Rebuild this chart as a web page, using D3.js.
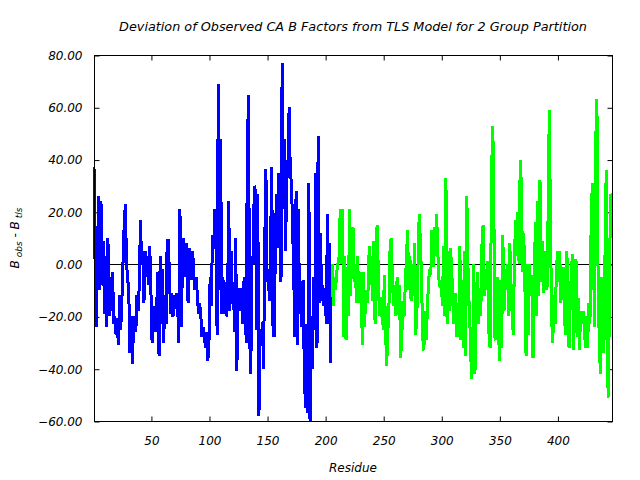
<!DOCTYPE html>
<html>
<head>
<meta charset="utf-8">
<script src="https://cdn.jsdelivr.net/npm/d3@7"></script>
<style>
  body { margin: 0; background: #fff; }
  svg { display: block; font-family: 'DejaVu Sans', sans-serif; font-style: italic; }
</style>
</head>
<body>
<div id="chart"></div>
<script>
// residue numbering of the two TLS groups
const groupStarts = [1, 206]

// B_obs - B_tls for group 1 (residues 1-205)
const group1Values = [
  37, -3, -24, 5, 26, -10, 24, -8, 9, -19,
  3, -24, 10, -20, -5, -18, -3, -23, -20, -27,
  -22, -31, -12, -25, -14, 1, 15, 23, 0, -5,
  -12, -34, -20, -38, -25, -20, -26, -12, -18, -8,
  17, 0, 5, -15, 5, -5, 3, -8, 7, -10,
  -30, -19, -16, -26, -16, -3, -35, 3, -23, -2,
  -30, -12, -23, 9, 9, -5, -19, -11, -20, -12,
  -17, -11, -15, -30, 21, -24, -5, 10, -5, 6,
  8, -15, 6, 3, -6, 5, -5, -10, -5, -12,
  -19, -15, -20, -28, -24, -28, -32, -26, -37, -30,
  -5, -16, 11, 6, 21, 13, -27, 69, -10, 48,
  -19, -5, -19, -7, -20, -14, 24, -18, 5, -15,
  -7, -26, 10, -41, -9, -18, -9, -14, -23, -7,
  -5, -30, 41, 64.5, -28, -42, 3, 0, 30, 28,
  -25, 27, -58, -25, -30, -22, -40, 7, 36.5, -7,
  -2, -14, 5, 37, -23, -28, 0, 27, 6, 35,
  19, -7, 77, 21, 48, 5, 40, 33, 60, 35,
  31, 15, -5, -28, 28, -31, 21, -19, -7, -24,
  -6, -38, -55, -23, -57, 31, -60, -26, -40, -5,
  -25, 35, -32, 49, -15, 12, -14, -8, -16, -9,
  -23, 19, -23, 8, -38
]

// B_obs - B_tls for group 2 (residues 206-447)
const group2Values = [
  0, -16, -5, -10, -3, 0, 3, 21, 0, 21,
  -28, 3, -29, -7, -20, 21, -12, 10, 14, -7,
  0, -15, 3, -15, -8, -3, -31, -3, -24, -10,
  -15, -10, 7, -8, 3, -14, 9, -23, 12, 15,
  -10, -20, -13, -13, -25, -4, -25, -39, -26, -15,
  8, 10, -7, -16, -8, -20, -5, -14, -8, -36,
  -28, -14, -20, -8, 2, 13, -10, 3, -14, 0,
  -12, 8, -27, -19, 0, 19, 9, -5, -28, -33,
  -18, -29, -18, -7, -2, -4, 13, -1, 14, 3,
  19, 5, -6, -9, -7, -16, 7, -20, 33, -23,
  5, -18, 6, -2, -15, -23, -11, -28, -15, -28,
  7, -29, -6, -32, 5, -35, 26, -1, -16, -27,
  -44, -40, 0, -42, -20, -3, -23, -9, -20, 7,
  15, -12, -2, -10, 1, -26, -32, 16, 53, 42,
  -28, -29, -5, -15, -37, -6, -32, 11, -18, -2,
  -10, 0, -20, 8, -7, -19, -27, 2, 17, 3,
  20, 0, 40, 30, -3, 12, -8, -35, 0, -27,
  0, -10, -4, -36, -10, 16, -20, 24, -12, 32,
  -7, 9, -11, 5, 0, -10, 19, 59, 17, -21,
  -30, -12, -23, -5, 5, -7, 5, -15, -4, -1,
  -20, -27, 5, -5, -32, -15, -3, 4, -33, -10,
  2, -28, -13, -33, -18, -23, -18, -20, -32, -20,
  -32, -15, -23, 14, 31, 5, -24, 47, 63, -4,
  -29, -42, -5, -26, -34, 4, 36, -43, -51, 3,
  27, 17
]

const xTicks = [50, 100, 150, 200, 250, 300, 350, 400]
const yTicks = [-60, -40, -20, 0, 20, 40, 60, 80]
const residueRange = [1, 447]
const valueRange = [-60, 80]

const width = 640
const height = 480
const plotLeft = 94
const plotRight = 612
const plotTop = 55
const plotBottom = 421

const svg = d3.select('#chart').append('svg')
  .attr('width', width)
  .attr('height', height)

const x = d3.scaleLinear().domain(residueRange).range([plotLeft, plotRight])
const y = d3.scaleLinear().domain(valueRange).range([plotBottom, plotTop])

const styleAxis = g => {
  g.select('.domain').remove()
  g.selectAll('.tick line').attr('stroke', '#000')
  g.selectAll('.tick text')
    .attr('fill', '#000')
    .style('font-size', '12px')
    .style('font-family', "'DejaVu Sans', sans-serif")
    .style('font-style', 'italic')
}

svg.append('g')
  .attr('transform', `translate(0.5, ${plotBottom + 0.5})`)
  .call(d3.axisBottom(x).tickValues(xTicks).tickSize(-5).tickPadding(15).tickFormat(d3.format('d')))
  .call(styleAxis)

svg.append('g')
  .attr('transform', `translate(0.5, ${plotTop + 0.5})`)
  .call(d3.axisTop(x).tickValues(xTicks).tickSize(-5).tickFormat(''))
  .call(styleAxis)

svg.append('g')
  .attr('transform', `translate(${plotLeft + 0.5}, 0.5)`)
  .call(d3.axisLeft(y).tickValues(yTicks).tickSize(-5).tickPadding(12).tickFormat(d3.format('.2f')))
  .call(styleAxis)

svg.append('g')
  .attr('transform', `translate(${plotRight + 0.5}, 0.5)`)
  .call(d3.axisRight(y).tickValues(yTicks).tickSize(-5).tickFormat(''))
  .call(styleAxis)

// zero line
svg.append('line')
  .attr('x1', plotLeft)
  .attr('x2', plotRight)
  .attr('y1', Math.round(y(0)) + 0.5)
  .attr('y2', Math.round(y(0)) + 0.5)
  .attr('stroke', '#000')

const series = [
  { color: '#0000ff', points: group1Values.map((v, i) => ({ r: groupStarts[0] + i, v })) },
  { color: '#00ff00', points: group2Values.map((v, i) => ({ r: groupStarts[1] + i, v })) }
]

const line = d3.line()
  .x(d => x(d.r))
  .y(d => y(d.v))

svg.selectAll('path.series')
  .data(series)
  .enter()
  .append('path')
  .attr('class', 'series')
  .attr('d', d => line(d.points))
  .attr('fill', 'none')
  .attr('stroke', d => d.color)
  .attr('stroke-width', 3)
  .attr('stroke-linejoin', 'miter')
  .attr('stroke-miterlimit', 2)
  .attr('shape-rendering', 'crispEdges')

// frame
svg.append('rect')
  .attr('x', plotLeft + 0.5)
  .attr('y', plotTop + 0.5)
  .attr('width', plotRight - plotLeft)
  .attr('height', plotBottom - plotTop)
  .attr('fill', 'none')
  .attr('stroke', '#000')

// titles
svg.append('text')
  .attr('x', (plotLeft + plotRight) / 2)
  .attr('y', 31)
  .attr('text-anchor', 'middle')
  .style('font-size', '12.8px')
  .text('Deviation of Observed CA B Factors from TLS Model for 2 Group Partition')

svg.append('text')
  .attr('x', (plotLeft + plotRight) / 2)
  .attr('y', 472)
  .attr('text-anchor', 'middle')
  .style('font-size', '12px')
  .text('Residue')

const yLabel = svg.append('text')
  .attr('transform', `translate(19, ${(plotTop + plotBottom) / 2}) rotate(-90)`)
  .attr('text-anchor', 'middle')
  .style('font-size', '12px')

yLabel.append('tspan').text('B')
yLabel.append('tspan').attr('dy', 3).style('font-size', '9px').text(' obs')
yLabel.append('tspan').attr('dy', -3).text('  -  B')
yLabel.append('tspan').attr('dy', 3).style('font-size', '9px').text(' tls')
</script>
</body>
</html>
